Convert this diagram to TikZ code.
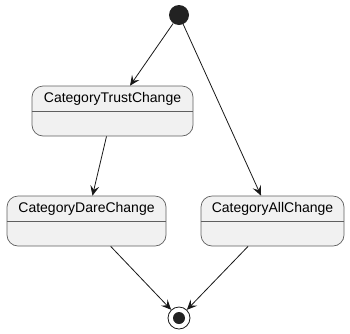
\documentclass[tikz,border=0pt]{standalone}
\usepackage{fontspec}
\setmainfont{Liberation Sans}
\usetikzlibrary{arrows.meta}
\definecolor{statefill}{HTML}{F1F1F1}
\definecolor{stateline}{HTML}{5F5F5F}
\definecolor{ink}{HTML}{181818}
\definecolor{dot}{HTML}{222222}
\tikzset{
  statebox/.style={draw=stateline, fill=statefill, line width=0.7pt,
    rounded corners=11pt, minimum height=50pt, inner sep=0pt},
  statetitle/.style={font=\fontsize{14}{16}\selectfont, text=black, inner sep=0pt},
  divider/.style={draw=stateline, line width=0.7pt},
  trans/.style={draw=ink, line width=0.8pt,
    -{Stealth[length=10pt, width=9pt, inset=4pt]}},
}
\begin{document}
\begin{tikzpicture}[x=1pt, y=-1pt]
  \useasboundingbox (0,0) rectangle (350,333);

  % initial and final pseudo-states
  \node[circle, fill=dot, minimum size=20pt, inner sep=0pt] (start) at (179,15) {};
  \node[circle, draw=ink, fill=white, line width=0.8pt, minimum size=22pt, inner sep=0pt] (final) at (179,318) {};
  \node[circle, fill=dot, minimum size=12pt, inner sep=0pt] (finaldot) at (final.center) {};

  % states
  \node[statebox, minimum width=161pt] (trust) at (112.5,111) {};
  \node[statebox, minimum width=159pt] (dare)  at (86.5,221) {};
  \node[statebox, minimum width=143pt] (all)   at (272.5,221) {};

  \foreach \s/\t in {trust/CategoryTrustChange, dare/CategoryDareChange, all/CategoryAllChange} {
    \draw[divider] ([yshift=-26pt]\s.north west) -- ([yshift=-26pt]\s.north east);
    \node[statetitle] (\s-title) at ([yshift=-13pt]\s.north) {\t};
  }

  % transitions
  \draw[trans] (start) -- (trust);
  \draw[trans] (start) -- (all);
  \draw[trans] (trust) -- (dare);
  \draw[trans] (dare) -- (final);
  \draw[trans] (all) -- (final);
\end{tikzpicture}
\end{document}
